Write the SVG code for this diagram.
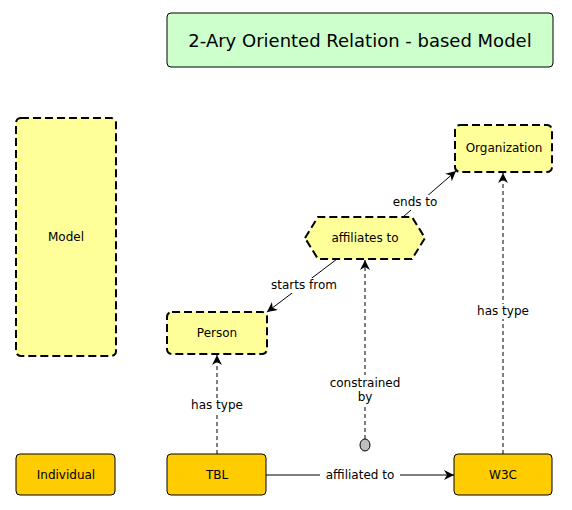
<svg xmlns="http://www.w3.org/2000/svg" width="572" height="510" viewBox="0 0 572 510">
<defs>
<style>
text{font-family:"DejaVu Sans","Liberation Sans",Arial,sans-serif;font-size:12px;fill:#000;text-anchor:middle;dominant-baseline:central}
.cls{fill:#ffff99;stroke:#000;stroke-width:2;stroke-dasharray:8 4}
.ind{fill:#ffcc00;stroke:#000;stroke-width:1}
.dash{fill:none;stroke:#000;stroke-width:1;stroke-dasharray:4 3}
.solid{fill:none;stroke:#000;stroke-width:1}
.lbl{fill:#fff;stroke:none}
</style>
<marker id="arr" viewBox="0 0 10 10" refX="10" refY="5" markerWidth="10" markerHeight="10" markerUnits="userSpaceOnUse" orient="auto">
<path d="M0,0 L10,5 L0,10 L3,5 Z" fill="#000"/>
</marker>
</defs>
<rect width="572" height="510" fill="#fff"/>
<g id="title">
<rect x="167" y="13" width="386" height="54" rx="4" fill="#ccffcc" stroke="#000" stroke-width="1"/>
<text x="360" y="40" style="font-size:18px">2-Ary Oriented Relation - based Model</text>
</g>
<g id="connectors">
<line class="dash" x1="217" y1="454" x2="217" y2="355" marker-end="url(#arr)"/>
<rect class="lbl" x="188" y="398" width="58" height="15"/>
<text x="217" y="405">has type</text>
<line class="dash" x1="365" y1="439" x2="365" y2="260" marker-end="url(#arr)"/>
<rect class="lbl" x="328" y="375" width="74" height="30"/>
<text x="365" y="383">constrained</text>
<text x="365" y="397">by</text>
<line class="dash" x1="503" y1="454" x2="503" y2="173" marker-end="url(#arr)"/>
<rect class="lbl" x="474" y="304" width="58" height="15"/>
<text x="503" y="311">has type</text>
<line class="solid" x1="266" y1="475" x2="454" y2="475" marker-end="url(#arr)"/>
<rect class="lbl" x="320" y="468" width="80" height="15"/>
<text x="360" y="475">affiliated to</text>
<line class="solid" x1="337" y1="259" x2="267" y2="312" marker-end="url(#arr)"/>
<rect class="lbl" x="268" y="278" width="72" height="15"/>
<text x="304" y="285">starts from</text>
<line class="solid" x1="403" y1="217" x2="456" y2="171" marker-end="url(#arr)"/>
<rect class="lbl" x="390" y="195" width="50" height="15"/>
<text x="415" y="202">ends to</text>
</g>
<g id="model">
<rect class="cls" x="16" y="118" width="100" height="238" rx="5"/>
<text x="66" y="237">Model</text>
</g>
<g id="individual">
<rect class="ind" x="16" y="454" width="99" height="41" rx="4"/>
<text x="66" y="475">Individual</text>
</g>
<g id="tbl">
<rect class="ind" x="167" y="454" width="99" height="41" rx="4"/>
<text x="217" y="475">TBL</text>
</g>
<g id="w3c">
<rect class="ind" x="454" y="454" width="98" height="41" rx="4"/>
<text x="503" y="475">W3C</text>
</g>
<g id="person">
<rect class="cls" x="167" y="312" width="100" height="42" rx="5"/>
<text x="217" y="333">Person</text>
</g>
<g id="organization">
<rect class="cls" x="455" y="125" width="97" height="47" rx="5"/>
<text x="504" y="148">Organization</text>
</g>
<g id="affiliates_to">
<polygon class="cls" points="305,238 318,217 412,217 425,238 412,259 318,259"/>
<text x="365" y="238">affiliates to</text>
</g>
<g id="constraint_dot">
<ellipse cx="365" cy="445" rx="5" ry="6" fill="#c0c0c0" stroke="#000" stroke-width="1"/>
</g>
</svg>
